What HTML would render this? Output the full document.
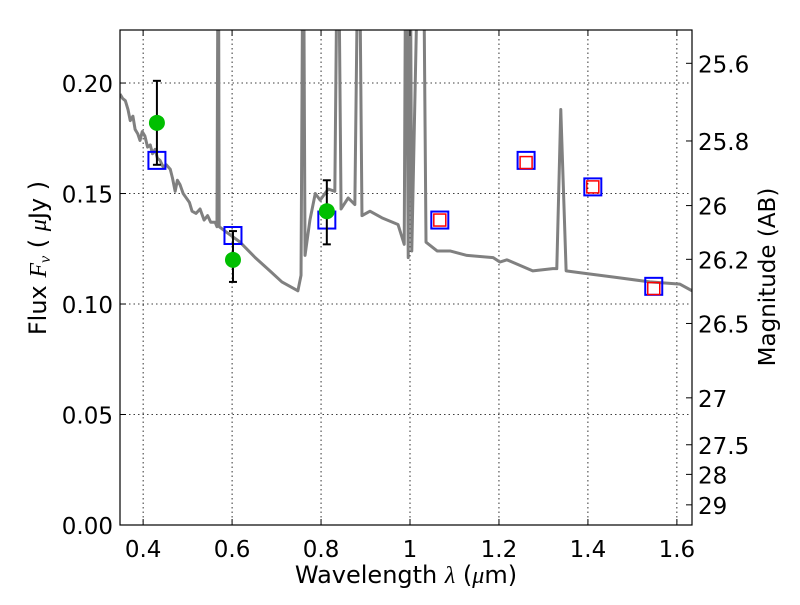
<!DOCTYPE html>
<html><head><meta charset="utf-8"><style>
body{margin:0;background:#fff;}
svg text{font-family:"DejaVu Sans","Liberation Sans",sans-serif;fill:#000;}
</style></head><body>
<svg id="chart" width="800" height="600" xmlns="http://www.w3.org/2000/svg">
<rect width="800" height="600" fill="#fff"/>
<g id="grid"></g>
<g id="plot"></g>
<g id="axes"></g>
</svg>
<script>
const specLam=[0.348,0.354,0.360,0.366,0.371,0.377,0.382,0.388,0.393,0.398,0.404,0.410,0.416,0.421,0.427,0.432,0.438,0.445,0.452,0.461,0.466,0.472,0.477,0.483,0.490,0.497,0.504,0.510,0.519,0.528,0.537,0.545,0.552,0.562,0.566,0.569,0.571,0.584,0.618,0.652,0.685,0.712,0.748,0.755,0.760,0.764,0.775,0.787,0.798,0.816,0.831,0.838,0.845,0.861,0.876,0.885,0.892,0.910,0.937,0.973,0.987,0.991,0.996,1.000,1.004,1.022,1.029,1.036,1.061,1.090,1.128,1.187,1.202,1.218,1.276,1.321,1.330,1.339,1.351,1.389,1.465,1.539,1.607,1.634];
const specFlux=[0.195,0.193,0.192,0.188,0.183,0.185,0.179,0.177,0.174,0.178,0.176,0.171,0.172,0.168,0.170,0.166,0.165,0.162,0.163,0.161,0.157,0.151,0.156,0.154,0.150,0.148,0.146,0.142,0.141,0.143,0.138,0.140,0.137,0.137,0.135,0.3,0.135,0.133,0.128,0.121,0.115,0.110,0.106,0.113,0.3,0.122,0.138,0.150,0.147,0.152,0.151,0.3,0.143,0.148,0.145,0.3,0.140,0.142,0.139,0.136,0.127,0.3,0.121,0.3,0.124,0.3,0.3,0.128,0.124,0.124,0.122,0.121,0.119,0.120,0.115,0.116,0.116,0.188,0.115,0.114,0.112,0.110,0.109,0.106];
const obsLam=[0.431,0.602,0.813];
const obsFlux=[0.182,0.120,0.142];
const obsHi=[0.201,0.133,0.156];
const obsLo=[0.163,0.110,0.127];
const modLam=[0.431,0.602,0.813,1.067,1.261,1.411,1.548];
const modFlux=[0.165,0.131,0.138,0.138,0.165,0.153,0.108];
const redLam=[1.067,1.261,1.411,1.548];
const redFlux=[0.138,0.164,0.153,0.107];
const xTicks=[0.4,0.6,0.8,1.0,1.2,1.4,1.6];
const xTickLabels=["0.4","0.6","0.8","1","1.2","1.4","1.6"];
const yTicks=[0,0.05,0.10,0.15,0.20];
const yTickLabels=["0.00","0.05","0.10","0.15","0.20"];
const magTicks=[25.6,25.8,26,26.2,26.5,27,27.5,28,29];
const magTickLabels=["25.6","25.8","26","26.2","26.5","27","27.5","28","29"];

const L=120,R=692,T=30,B=525;
const xmin=0.348,xmax=1.634,ymin=0,ymax=0.224;
const X=v=>L+(v-xmin)/(xmax-xmin)*(R-L);
const Y=v=>B-(v-ymin)/(ymax-ymin)*(B-T);
const NS="http://www.w3.org/2000/svg";
function mk(tag,attrs,parent,text){const e=document.createElementNS(NS,tag);for(const k in attrs)e.setAttribute(k,attrs[k]);if(text!==undefined)e.textContent=text;parent.appendChild(e);return e;}
const grid=document.getElementById('grid'),plot=document.getElementById('plot'),axes=document.getElementById('axes');
const svg=document.getElementById('chart');
const defs=mk('defs',{},svg);const cp=mk('clipPath',{id:'clip'},defs);mk('rect',{x:L,y:T,width:R-L,height:B-T},cp);
plot.setAttribute('clip-path','url(#clip)');

xTicks.forEach((v,i)=>{
 const g=mk('line',{x1:X(v),x2:X(v),y1:T,y2:B,stroke:'#000','stroke-dasharray':'1.5,3','stroke-width':0.8},grid);
 
 const t=mk('line',{x1:X(v),x2:X(v),y1:B,y2:B-6,stroke:'#000'},axes);
 
 mk('line',{x1:X(v),x2:X(v),y1:T,y2:T+6,stroke:'#000'},axes);
 const lb=mk('text',{x:X(v),y:B+32,'text-anchor':'middle','font-size':23},axes,xTickLabels[i]);
 
});
yTicks.forEach((v,i)=>{
 const g=mk('line',{x1:L,x2:R,y1:Y(v),y2:Y(v),stroke:'#000','stroke-dasharray':'1.5,3','stroke-width':0.8},grid);
 
 const t=mk('line',{x1:L,x2:L+6,y1:Y(v),y2:Y(v),stroke:'#000'},axes);
 
 const lb=mk('text',{x:L-7,y:Y(v)+9,'text-anchor':'end','font-size':23},axes,yTickLabels[i]);
 
});
magTicks.forEach((m,i)=>{
 const f=Math.pow(10,(23.9-m)/2.5);const y=Y(f);
 const t=mk('line',{x1:R-6,x2:R,y1:y,y2:y,stroke:'#000'},axes);
 
 const lb=mk('text',{x:R+6,y:y+9,'font-size':23},axes,magTickLabels[i]);
 
});

const sp=mk('polyline',{points:specLam.map((l,i)=>X(l)+','+Y(specFlux[i])).join(' '),fill:'none',stroke:'#808080','stroke-width':3,'stroke-linejoin':'round'},plot);


modLam.forEach((l,i)=>{
 const s=mk('rect',{x:X(l)-8.5,y:Y(modFlux[i])-8.5,width:17,height:17,fill:'none',stroke:'#0000ff','stroke-width':2},plot);
 
});
redLam.forEach((l,i)=>{
 const s=mk('rect',{x:X(l)-6,y:Y(redFlux[i])-6,width:12,height:12,fill:'none',stroke:'#ff0000','stroke-width':1.5},plot);
 
});
obsLam.forEach((l,i)=>{
 const x=X(l);
 const e=mk('g',{},plot);
 
 mk('line',{x1:x,x2:x,y1:Y(obsHi[i]),y2:Y(obsLo[i]),stroke:'#000','stroke-width':2},e);
 mk('line',{x1:x-4,x2:x+4,y1:Y(obsHi[i]),y2:Y(obsHi[i]),stroke:'#000','stroke-width':2},e);
 mk('line',{x1:x-4,x2:x+4,y1:Y(obsLo[i]),y2:Y(obsLo[i]),stroke:'#000','stroke-width':2},e);
 const c=mk('circle',{cx:x,cy:Y(obsFlux[i]),r:8,fill:'#00bf00'},plot);
 
});

const fr=mk('rect',{x:L,y:T,width:R-L,height:B-T,fill:'none',stroke:'#000','stroke-width':1.2},axes);

const xl=mk('text',{x:406,y:583,'text-anchor':'middle','font-size':24,'xml:space':'preserve'},axes);
xl.innerHTML='Wavelength  <tspan font-family="Liberation Serif" font-style="italic">λ</tspan> (<tspan font-family="Liberation Serif" font-style="italic">μ</tspan>m)';

const yl=mk('text',{x:0,y:0,'text-anchor':'middle','font-size':24,transform:'translate(46,258) rotate(-90)','xml:space':'preserve'},axes);
yl.innerHTML='Flux  <tspan font-family="Liberation Serif" font-style="italic">F<tspan font-size="16" dy="4">ν</tspan></tspan><tspan dy="-4">   (  </tspan><tspan font-family="Liberation Serif" font-style="italic">μ</tspan>Jy )';

const ml=mk('text',{x:0,y:0,'text-anchor':'middle','font-size':23,transform:'translate(775,277) rotate(-90)'},axes,'Magnitude (AB)');

</script>
</body></html>
